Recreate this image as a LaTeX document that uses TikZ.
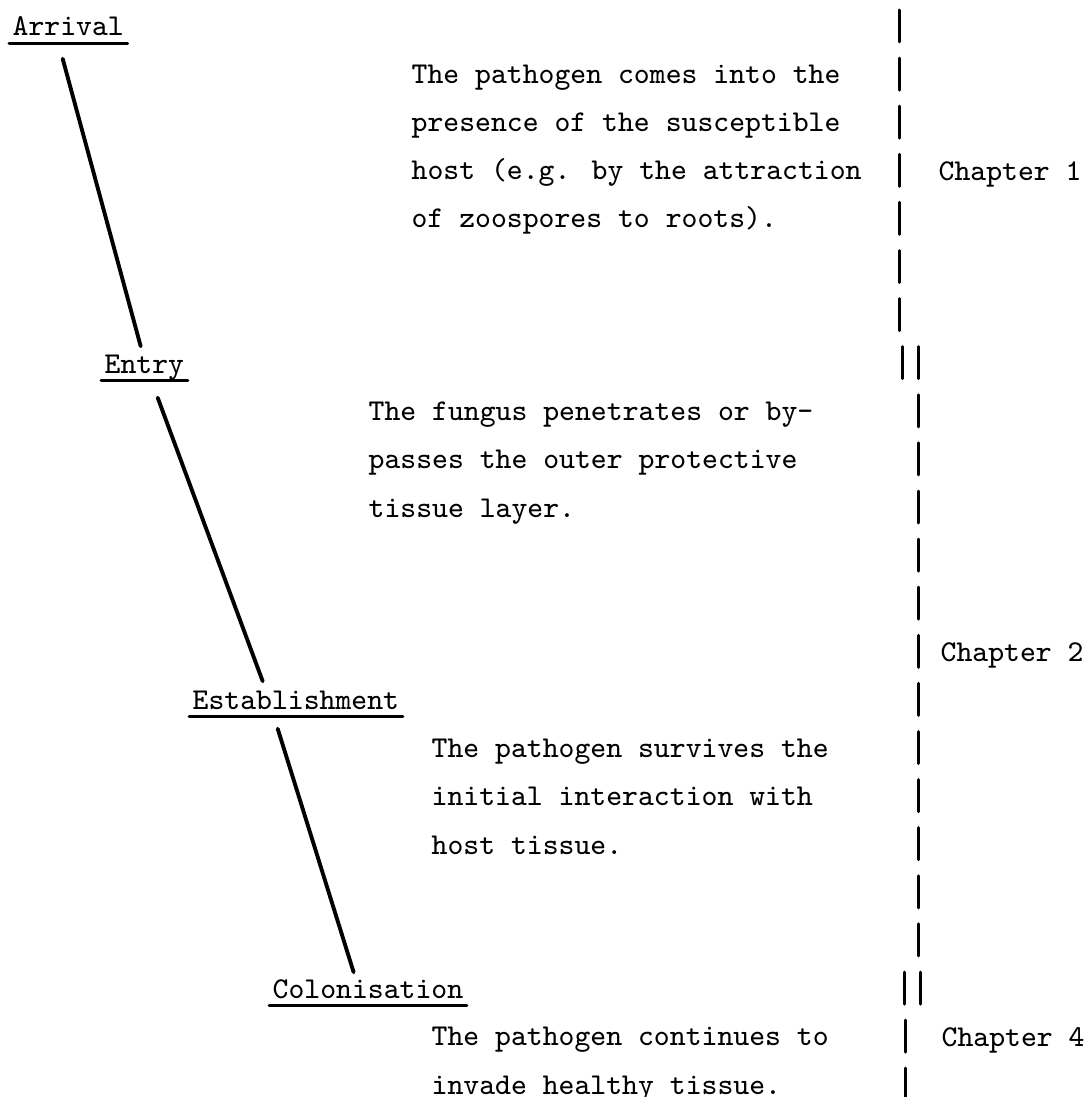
\documentclass[tikz,border=0pt]{standalone}
\usepackage{tikz}
\usetikzlibrary{calc}

\tikzset{
  stage/.style={anchor=base west, inner sep=0pt, text height=5.3pt, text depth=0pt,
                font=\fontsize{8.6}{13.7}\selectfont\ttfamily},
  desc/.style={anchor=base west, inner sep=0pt, align=left,
               font=\fontsize{8.6}{13.7}\selectfont\ttfamily},
  chap/.style={anchor=base west, inner sep=0pt,
               font=\fontsize{8.6}{13.7}\selectfont\ttfamily},
  stem/.style={line width=1.1pt},
  uline/.style={line width=0.85pt},
  chapbar/.style={line width=0.85pt}
}

\begin{document}
\begin{tikzpicture}
    [line cap=round,line join=round,x=0.01cm,y=-0.01cm]
\useasboundingbox (0,0) rectangle (1092,1097);
%stages on the left
 \node[stage] (arr) at (12,36) {Arrival};
 \node[stage] (ent) at (104,373) {Entry};
 \node[stage] (est) at (192,709) {Establishment};
 \node[stage] (col) at (272,998) {Colonisation};

%underlining the stages
 \foreach \n in {arr,ent,est,col}
   \draw[uline] ([shift={(-0.03cm,-0.065cm)}]\n.south west) -- ([shift={(0.03cm,-0.065cm)}]\n.south east);

%the slanted stems between stages
 \draw[stem] ([shift={(-0.056cm,-0.22cm)}]arr.south) -- ([shift={(-0.037cm,0.074cm)}]ent.north);
 \draw[stem] ([shift={(0.133cm,-0.24cm)}]ent.south) -- ([shift={(-0.332cm,0.084cm)}]est.north);
 \draw[stem] ([shift={(-0.182cm,-0.19cm)}]est.south) -- ([shift={(-0.143cm,0.064cm)}]col.north);

%what happens at each stage (base = last line)
 \node[desc] (darr) at (411,228) {The pathogen comes into the\\presence of the susceptible\\host (e.g. by the attraction\\of zoospores to roots).};
 \node[desc] (dent) at (368,517) {The fungus penetrates or by-\\passes the outer protective\\tissue layer.};
 \node[desc] (dest) at (431,854) {The pathogen survives the\\initial interaction with\\host tissue.};
 \node[desc] (dcol) at (431,1094) {The pathogen continues to\\invade healthy tissue.};

%chapter column
 \foreach \k in {0,...,6}
   \draw[chapbar] (899,{10+48.1*\k}) -- ++(0,32);
 \draw[chapbar] (902,{10+48.1*7}) -- ++(0,32);
 \draw[chapbar] (918,{10+48.1*7}) -- ++(0,32);
 \foreach \k in {8,...,19}
   \draw[chapbar] (918,{10+48.1*\k}) -- ++(0,32);
 \draw[chapbar] (904,{10+48.1*20}) -- ++(0,32);
 \draw[chapbar] (920,{10+48.1*20}) -- ++(0,32);
 \foreach \k in {21,22}
   \draw[chapbar] (905,{10+48.1*\k}) -- ++(0,32);

 \node[chap] (ch1) at (938,180) {Chapter 1};
 \node[chap] (ch2) at (940,661) {Chapter 2};
 \node[chap] (ch4) at (941,1046) {Chapter 4};
\end{tikzpicture}
\end{document}
